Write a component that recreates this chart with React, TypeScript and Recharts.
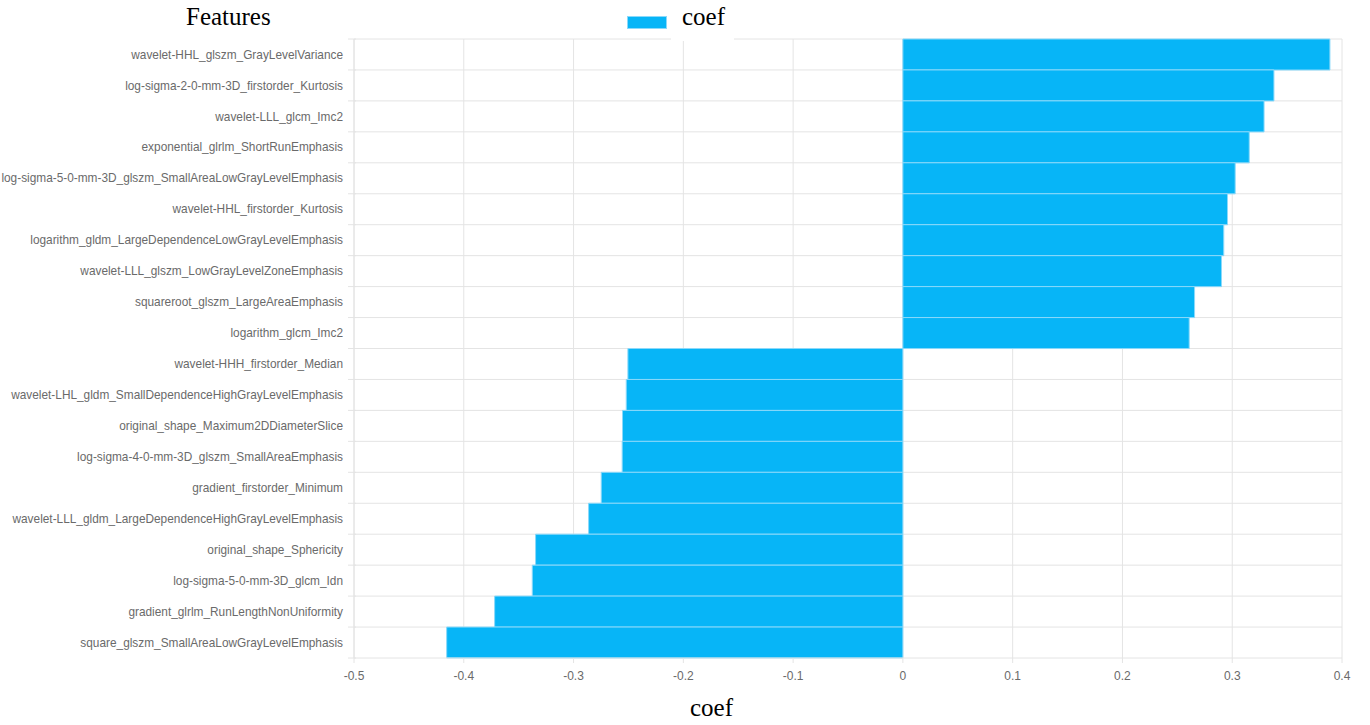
import { BarChart, Bar, XAxis, YAxis, CartesianGrid } from "recharts";

const features = [
  "wavelet-HHL_glszm_GrayLevelVariance",
  "log-sigma-2-0-mm-3D_firstorder_Kurtosis",
  "wavelet-LLL_glcm_Imc2",
  "exponential_glrlm_ShortRunEmphasis",
  "log-sigma-5-0-mm-3D_glszm_SmallAreaLowGrayLevelEmphasis",
  "wavelet-HHL_firstorder_Kurtosis",
  "logarithm_gldm_LargeDependenceLowGrayLevelEmphasis",
  "wavelet-LLL_glszm_LowGrayLevelZoneEmphasis",
  "squareroot_glszm_LargeAreaEmphasis",
  "logarithm_glcm_Imc2",
  "wavelet-HHH_firstorder_Median",
  "wavelet-LHL_gldm_SmallDependenceHighGrayLevelEmphasis",
  "original_shape_Maximum2DDiameterSlice",
  "log-sigma-4-0-mm-3D_glszm_SmallAreaEmphasis",
  "gradient_firstorder_Minimum",
  "wavelet-LLL_gldm_LargeDependenceHighGrayLevelEmphasis",
  "original_shape_Sphericity",
  "log-sigma-5-0-mm-3D_glcm_Idn",
  "gradient_glrlm_RunLengthNonUniformity",
  "square_glszm_SmallAreaLowGrayLevelEmphasis",
];

const coefs = [
  0.389, 0.338, 0.329, 0.3155, 0.3027, 0.2957, 0.2923, 0.2902, 0.2657, 0.2608,
  -0.2505, -0.252, -0.2554, -0.2557, -0.2748, -0.2863, -0.3346, -0.3376,
  -0.3719, -0.4156,
];

const xTicks = [-0.5, -0.4, -0.3, -0.2, -0.1, 0, 0.1, 0.2, 0.3, 0.4];

const data = features.map((name, i) => ({ name, coef: coefs[i] }));

const BLUE = "#07b5f7";
const GRID = "#e4e4e4";
const W = 1370;
const H = 725;
const MARGIN = { top: 39, right: 28, bottom: 37, left: 0 };
const X_AXIS_H = 30;
const PLOT_H = H - MARGIN.top - MARGIN.bottom - X_AXIS_H;
const BAND = PLOT_H / features.length;

// y labels sit in the band middle, tick marks on the band edges
function FeatureTick(props: any) {
  const { x, y, payload, index } = props;
  const isLast = index === features.length - 1;
  return (
    <g>
      <line x1={x + 2} x2={x + 10} y1={y - BAND / 2} y2={y - BAND / 2} stroke={GRID} />
      {isLast && (
        <line x1={x + 2} x2={x + 10} y1={y + BAND / 2} y2={y + BAND / 2} stroke={GRID} />
      )}
      <text
        x={x - 3}
        y={y}
        dy="0.35em"
        textAnchor="end"
        fill="#6a6a6a"
        fontSize={11.85}
        fontFamily="'Liberation Sans', Arial, sans-serif"
      >
        {payload.value}
      </text>
    </g>
  );
}

const serif = "'Liberation Serif', 'Times New Roman', serif";

export default function App() {
  return (
    <div
      style={{
        position: "absolute",
        left: 0,
        top: 0,
        width: W,
        height: H,
        background: "#fff",
        overflow: "hidden",
      }}
    >
      <BarChart
        width={W}
        height={H}
        data={data}
        layout="vertical"
        margin={MARGIN}
        barCategoryGap={0}
      >
        <CartesianGrid
          stroke={GRID}
          horizontalCoordinatesGenerator={({ offset }: any) =>
            features.map((_, i) => offset.top + (i * offset.height) / features.length)
          }
        />
        <XAxis
          type="number"
          dataKey="coef"
          domain={[-0.5, 0.4]}
          ticks={xTicks}
          interval={0}
          height={X_AXIS_H}
          axisLine={{ stroke: GRID }}
          tickLine={{ stroke: GRID }}
          tickSize={5}
          tickMargin={8}
          tick={{ fill: "#6a6a6a", fontSize: 12, fontFamily: "'Liberation Sans', Arial, sans-serif" }}
        />
        <YAxis
          type="category"
          dataKey="name"
          width={354}
          interval={0}
          axisLine={{ stroke: GRID }}
          tickLine={false}
          tick={<FeatureTick />}
        />
        <Bar
          dataKey="coef"
          fill={BLUE}
          stroke="#8bd9fa"
          strokeWidth={1}
          isAnimationActive={false}
        />
      </BarChart>

      <div
        style={{
          position: "absolute",
          left: 186,
          top: 3,
          fontFamily: serif,
          fontSize: 25,
          color: "#000",
        }}
      >
        Features
      </div>

      <div
        style={{
          position: "absolute",
          left: 627,
          top: 16,
          width: 40,
          height: 13,
          background: BLUE,
          boxSizing: "border-box",
          border: "1px solid #8bd9fa",
        }}
      />
      <div
        style={{
          position: "absolute",
          left: 671,
          top: 3,
          width: 63,
          height: 38,
          background: "#fff",
          fontFamily: serif,
          fontSize: 25,
          color: "#000",
          paddingLeft: 11,
          boxSizing: "border-box",
        }}
      >
        coef
      </div>

      <div
        style={{
          position: "absolute",
          left: 690,
          top: 694,
          fontFamily: serif,
          fontSize: 25,
          color: "#000",
        }}
      >
        coef
      </div>
    </div>
  );
}
